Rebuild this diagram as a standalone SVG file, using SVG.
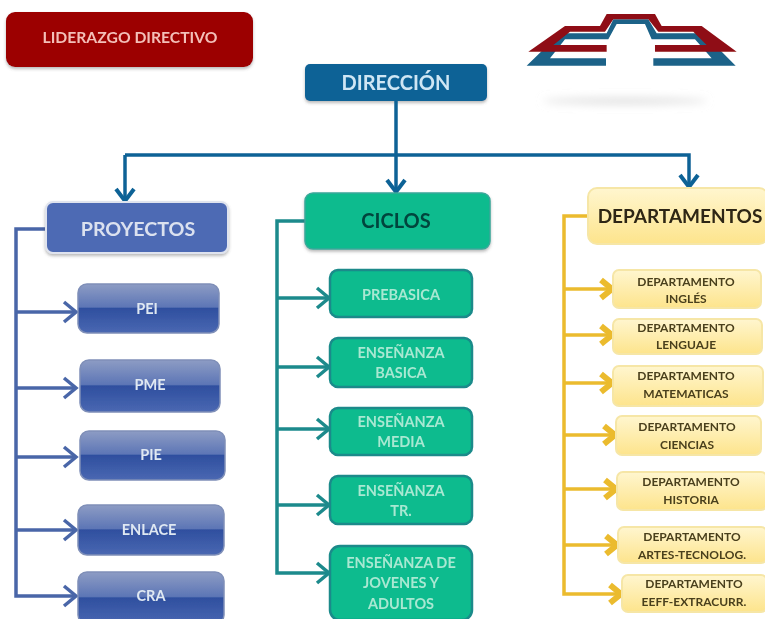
<svg xmlns="http://www.w3.org/2000/svg" width="765" height="619" viewBox="0 0 765 619">
<style>
text{font-family:Lato,"Open Sans","Liberation Sans",sans-serif;text-anchor:middle;font-weight:700}
.c{fill:none;stroke-width:3.5}
.p{stroke:#4a66a8}.g{stroke:#1d8a8c}.y{stroke:#ebbb2e}.b{stroke:#0f6296}
.pn{fill:url(#gloss);stroke:#7f8fb8;stroke-width:1.5}
.gn{fill:#0cbb8e;stroke:#1a8a8a;stroke-width:2.5}
.yn{fill:url(#gold);stroke:#f6e6a6;stroke-width:2}
.w{fill:#dfe8f2;font-size:14.5px}.gt{fill:#a9e8d2;font-size:14.5px}.yt{fill:#4a3f1c;font-size:12px}
</style>
<defs>
<linearGradient id="gloss" x1="0" y1="0" x2="0" y2="1">
<stop offset="0" stop-color="#8d9cc4"/><stop offset=".47" stop-color="#5d76b6"/><stop offset=".5" stop-color="#2f4f9f"/><stop offset="1" stop-color="#4a68b2"/>
</linearGradient>
<linearGradient id="gold" x1="0" y1="0" x2="0" y2="1">
<stop offset="0" stop-color="#fff6cf"/><stop offset="1" stop-color="#fde48c"/>
</linearGradient>
<filter id="soft" x="-5%" y="-5%" width="110%" height="110%"><feGaussianBlur stdDeviation="0.65"/></filter>
<filter id="blur" x="-20%" y="-200%" width="140%" height="500%"><feGaussianBlur stdDeviation="4"/></filter>
<filter id="sh" x="-10%" y="-10%" width="120%" height="130%"><feDropShadow dx="0" dy="2" stdDeviation="1.5" flood-color="#555" flood-opacity=".4"/></filter>
<marker id="ap" markerUnits="userSpaceOnUse" markerWidth="22" markerHeight="26" refX="15" refY="12" orient="auto"><path d="M3 2L15 12L3 22" fill="none" stroke="#4a66a8" stroke-width="3.5"/></marker>
<marker id="ag" markerUnits="userSpaceOnUse" markerWidth="22" markerHeight="26" refX="15" refY="12" orient="auto"><path d="M3 2L15 12L3 22" fill="none" stroke="#1d8a8c" stroke-width="3.5"/></marker>
<marker id="ay" markerUnits="userSpaceOnUse" markerWidth="22" markerHeight="26" refX="15" refY="12" orient="auto"><path d="M4 3L15 12L4 21" fill="none" stroke="#ebbb2e" stroke-width="6"/></marker>
<marker id="ab" markerUnits="userSpaceOnUse" markerWidth="22" markerHeight="26" refX="15" refY="12" orient="auto"><path d="M3 3L15 12L3 21" fill="none" stroke="#0f6296" stroke-width="4"/></marker>
</defs>
<rect width="765" height="619" fill="#fff"/>
<g filter="url(#soft)">
<g id="logo">
<ellipse cx="625" cy="101" rx="82" ry="3" fill="#dcdcdc" filter="url(#blur)"/>
<g transform="translate(510,0) scale(.3333)">
<path d="M50 197L150 100H290L310 58H415L440 100H580L677 197H430V175H605L555 118H425L405 72H320L295 118H165L120 175H288V197Z" fill="#1a6288"/>
<path d="M55 155L165 78H270L290 42H435L455 78H575L680 155H435V135H590L550 95H445L415 58H310L285 95H180L130 135H290V155Z" fill="#8f0c14"/>
</g>
</g>
<g id="liderazgo"><rect x="6" y="12" width="247" height="55" rx="9" fill="#9c0006" filter="url(#sh)"/><text x="130" y="43" font-size="15.7" fill="#f3bfb8">LIDERAZGO DIRECTIVO</text></g>
<g id="direccion"><rect x="305" y="64" width="182" height="37" rx="5" fill="#0f6296" filter="url(#sh)"/><text x="396" y="90" font-size="20" fill="#cfe6f4">DIRECCIÓN</text></g>
<g id="connectors">
<path class="c b" d="M396 101V192" marker-end="url(#ab)"/>
<path class="c b" d="M125 155H689V187" marker-end="url(#ab)"/>
<path class="c b" d="M125 155V201" marker-end="url(#ab)"/>
<path class="c p" d="M47 229H16V596H76" marker-end="url(#ap)"/>
<path class="c p" d="M16 312H76" marker-end="url(#ap)"/><path class="c p" d="M16 388H76" marker-end="url(#ap)"/><path class="c p" d="M16 457H76" marker-end="url(#ap)"/><path class="c p" d="M16 530H76" marker-end="url(#ap)"/>
<path class="c g" d="M305 221H277V573H329" marker-end="url(#ag)"/>
<path class="c g" d="M277 298H329" marker-end="url(#ag)"/><path class="c g" d="M277 367H329" marker-end="url(#ag)"/><path class="c g" d="M277 429H329" marker-end="url(#ag)"/><path class="c g" d="M277 505H329" marker-end="url(#ag)"/>
<path class="c y" d="M588 216H564V594H621" marker-end="url(#ay)"/>
<path class="c y" d="M564 289H612" marker-end="url(#ay)"/><path class="c y" d="M564 335H612" marker-end="url(#ay)"/><path class="c y" d="M564 383H612" marker-end="url(#ay)"/><path class="c y" d="M564 435H615" marker-end="url(#ay)"/><path class="c y" d="M564 489H616" marker-end="url(#ay)"/><path class="c y" d="M564 545H617" marker-end="url(#ay)"/>
</g>
<g id="proyectos"><rect x="46" y="202" width="182" height="51" rx="7" fill="#4d6ab4" stroke="#dfe3ee" stroke-width="2" filter="url(#sh)"/><text x="138" y="236" font-size="19.7" fill="#dbe1ef">PROYECTOS</text></g>
<g id="pei"><rect x="78" y="284" width="141" height="49" rx="9" class="pn"/><text x="147" y="314" class="w">PEI</text></g>
<g id="pme"><rect x="80" y="360" width="140" height="52" rx="9" class="pn"/><text x="150" y="390" class="w">PME</text></g>
<g id="pie"><rect x="80" y="431" width="145" height="49" rx="9" class="pn"/><text x="151" y="460" class="w">PIE</text></g>
<g id="enlace"><rect x="78" y="505" width="146" height="50" rx="9" class="pn"/><text x="149" y="535" class="w">ENLACE</text></g>
<g id="cra"><rect x="78" y="572" width="146" height="52" rx="9" class="pn"/><text x="151" y="601" class="w">CRA</text></g>
<g id="ciclos"><rect x="305" y="193" width="185" height="56" rx="8" fill="#0cbb8e" stroke="#3aa89a" stroke-width="1.5" filter="url(#sh)"/><text x="396" y="228" font-size="20" fill="#04453e">CICLOS</text></g>
<g id="prebasica"><rect x="330" y="270" width="142" height="47" rx="8" class="gn"/><text x="401" y="300" class="gt">PREBASICA</text></g>
<g id="basica"><rect x="330" y="338" width="142" height="49" rx="8" class="gn"/><text x="401" y="358" class="gt">ENSEÑANZA</text><text x="401" y="378" class="gt">BASICA</text></g>
<g id="media"><rect x="330" y="408" width="142" height="47" rx="8" class="gn"/><text x="401" y="427" class="gt">ENSEÑANZA</text><text x="401" y="447" class="gt">MEDIA</text></g>
<g id="tr"><rect x="330" y="476" width="142" height="48" rx="8" class="gn"/><text x="401" y="496" class="gt">ENSEÑANZA</text><text x="401" y="516" class="gt">TR.</text></g>
<g id="jovenes"><rect x="330" y="546" width="142" height="74" rx="10" class="gn"/><text x="401" y="568" class="gt">ENSEÑANZA DE</text><text x="401" y="588" class="gt">JOVENES  Y</text><text x="401" y="609" class="gt">ADULTOS</text></g>
<g id="departamentos"><rect x="588" y="188" width="180" height="56" rx="9" class="yn"/><text x="680" y="223" font-size="19" fill="#2e2612">DEPARTAMENTOS</text></g>
<g id="ingles"><rect x="613" y="270" width="148" height="38" rx="6" class="yn"/><text x="686" y="286" class="yt">DEPARTAMENTO</text><text x="686" y="303" class="yt">INGLÉS</text></g>
<g id="lenguaje"><rect x="613" y="319" width="149" height="35" rx="6" class="yn"/><text x="686" y="332" class="yt">DEPARTAMENTO</text><text x="686" y="349" class="yt">LENGUAJE</text></g>
<g id="matematicas"><rect x="613" y="366" width="150" height="40" rx="6" class="yn"/><text x="686" y="380" class="yt">DEPARTAMENTO</text><text x="686" y="398" class="yt">MATEMATICAS</text></g>
<g id="ciencias"><rect x="616" y="416" width="145" height="39" rx="6" class="yn"/><text x="687" y="431" class="yt">DEPARTAMENTO</text><text x="687" y="449" class="yt">CIENCIAS</text></g>
<g id="historia"><rect x="617" y="472" width="150" height="38" rx="6" class="yn"/><text x="691" y="486" class="yt">DEPARTAMENTO</text><text x="691" y="504" class="yt">HISTORIA</text></g>
<g id="artes"><rect x="618" y="527" width="149" height="36" rx="6" class="yn"/><text x="692" y="541" class="yt">DEPARTAMENTO</text><text x="692" y="559" class="yt">ARTES-TECNOLOG.</text></g>
<g id="eeff"><rect x="622" y="575" width="145" height="37" rx="6" class="yn"/><text x="694" y="588" class="yt">DEPARTAMENTO</text><text x="694" y="606" class="yt">EEFF-EXTRACURR.</text></g>
</g>
</svg>
